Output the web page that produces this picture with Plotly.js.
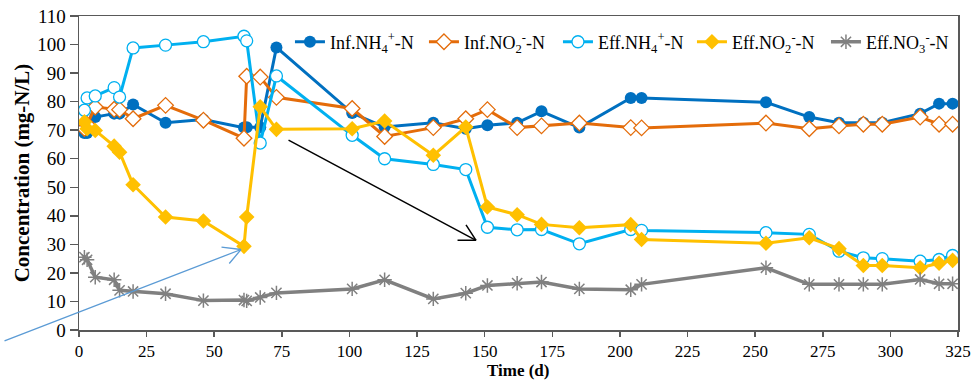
<!DOCTYPE html>
<html>
<head>
<meta charset="utf-8">
<script src="https://cdn.plot.ly/plotly-3.0.1.min.js"></script>
<style>html,body{margin:0;padding:0;background:#fff;}#chart{width:975px;height:381px;}</style>
</head>
<body>
<div id="chart"></div>
<script>
// Time (d)
var days = [2, 3, 6, 13, 15, 20, 32, 46, 61, 62, 67, 73, 101, 113, 131, 143, 151, 162, 171, 185, 204, 208, 254, 270, 281, 290, 297, 311, 318, 323];

// Concentrations (mg-N/L)
var infNH4 = [69, 69, 74.6, 75.8, 75.8, 79, 72.6, 73.7, 70.9, 71, 71, 99, 76, 71.1, 72.6, 70.5, 71.7, 72.6, 76.6, 70.9, 81.3, 81.3, 79.8, 74.6, 72.6, 72.6, 72.6, 75.8, 79.3, 79.3];
var infNO2 = [70.6, 72, 78.1, 77.3, 77.2, 74.0, 78.7, 73.5, 67.2, 88.9, 88.6, 81.5, 77.6, 67.8, 70.9, 74.0, 77.2, 70.9, 71.5, 72.5, 70.9, 70.8, 72.5, 70.5, 71.5, 72.1, 72.1, 74.6, 72.1, 72.1];
var effNH4 = [77, 81.3, 82, 84.9, 81.6, 98.8, 99.8, 101, 102.9, 101.3, 65.5, 89, 68.2, 60, 58, 56.2, 36, 35.1, 35.2, 30.2, 35.2, 34.9, 34.1, 33.5, 27.6, 25.3, 25, 24.1, 24.7, 26.1];
var effNO2 = [72.9, 70.5, 69.9, 64.4, 62.3, 50.9, 39.6, 38.2, 29.3, 39.6, 78.2, 70.3, 70.5, 73.2, 61.2, 71.1, 43.1, 40.4, 37, 35.8, 36.9, 31.7, 30.4, 32.3, 28.5, 22.6, 22.6, 21.8, 23.4, 24.4];
var effNO3 = [25.5, 24.6, 18.5, 17.6, 13.9, 13.5, 12.7, 10.3, 10.5, 10.2, 11.4, 13, 14.4, 17.6, 10.9, 12.9, 15.6, 16.4, 16.8, 14.4, 14.1, 16, 21.8, 16, 16, 16, 16, 17.7, 16.2, 16.2];

var seriesNames = ['Inf.NH<sub>4</sub><sup>+</sup>-N', 'Inf.NO<sub>2</sub><sup>-</sup>-N', 'Eff.NH<sub>4</sub><sup>+</sup>-N', 'Eff.NO<sub>2</sub><sup>-</sup>-N', 'Eff.NO<sub>3</sub><sup>-</sup>-N'];
var xTicks = [0, 25, 50, 75, 100, 125, 150, 175, 200, 225, 250, 275, 300, 325];
var yTicks = [0, 10, 20, 30, 40, 50, 60, 70, 80, 90, 100, 110];
var xTitle = '<b>Time (d)</b>';
var yTitle = '<b>Concentration (mg-N/L)</b>';

// annotation arrow heads (data coords)
var arrowHeadsX = [146.8, 59.9];
var arrowHeadsY = [31.4, 28.2];

var FONT = 'Liberation Serif, Times New Roman, serif';

var traces = [
  {x: days, y: infNH4, name: seriesNames[0], mode: 'lines+markers',
   line: {color: '#0070C0', width: 3},
   marker: {symbol: 'circle', size: 12, color: '#0070C0'}},
  {x: days, y: infNO2, name: seriesNames[1], mode: 'lines+markers',
   line: {color: '#E46C0A', width: 3},
   marker: {symbol: 'diamond', size: 12, color: '#ffffff', line: {color: '#E46C0A', width: 1.3}}},
  {x: days, y: effNH4, name: seriesNames[2], mode: 'lines+markers',
   line: {color: '#00B0F0', width: 3},
   marker: {symbol: 'circle', size: 12, color: '#ffffff', line: {color: '#00B0F0', width: 1.3}}},
  {x: days, y: effNO2, name: seriesNames[3], mode: 'lines+markers',
   line: {color: '#FFC000', width: 3},
   marker: {symbol: 'diamond', size: 12, color: '#FFC000'}},
  {x: days, y: effNO3, name: seriesNames[4], mode: 'lines+markers',
   line: {color: '#808080', width: 3.5},
   marker: {symbol: 'asterisk-open', size: 12, color: '#808080', line: {color: '#808080', width: 1.5}}}
];

function arm(i, ax, ay, color, w) {
  return {x: arrowHeadsX[i], y: arrowHeadsY[i], xref: 'x', yref: 'y', text: '', showarrow: true,
          arrowhead: 0, ax: ax, ay: ay, axref: 'pixel', ayref: 'pixel', arrowcolor: color, arrowwidth: w, standoff: 0, startstandoff: 0};
}

var annotations = [
  arm(0, -189, -101, '#000000', 1.5),
  arm(0, -20, 0, '#000000', 1.5),
  arm(0, -11, -17, '#000000', 1.5),
  arm(1, -238, 92, '#5B9BD5', 1.3),
  arm(1, -21, -2.5, '#5B9BD5', 1.3),
  arm(1, -13, 15.5, '#5B9BD5', 1.3),
  {xref: 'paper', yref: 'paper', x: 0.5, y: -0.163, xanchor: 'center', yanchor: 'bottom', showarrow: false,
   text: xTitle, font: {family: FONT, size: 17, color: '#000000'}, borderpad: 0}
];

var layout = {
  width: 975, height: 381,
  margin: {l: 79, r: 17, t: 16, b: 51, autoexpand: false},
  paper_bgcolor: '#ffffff', plot_bgcolor: '#ffffff',
  font: {family: FONT, size: 18, color: '#000000'},
  showlegend: true,
  legend: {orientation: 'h', x: 0.24, xanchor: 'left', y: 0.917, yanchor: 'middle',
           font: {family: FONT, size: 18, color: '#000000'}, bgcolor: 'rgba(255,255,255,0)',
           entrywidth: 89, entrywidthmode: 'pixels', tracegroupgap: 0},
  xaxis: {range: [0, 325], tickvals: xTicks, ticktext: xTicks.map(String), showgrid: false, zeroline: false,
          showline: true, linecolor: '#595959', linewidth: 1.5, mirror: true,
          ticks: 'outside', ticklen: 5, tickwidth: 1.5, tickcolor: '#595959',
          tickfont: {family: FONT, size: 17, color: '#000000'}, automargin: false},
  yaxis: {range: [0, 110], tickvals: yTicks, ticktext: yTicks.map(String), showgrid: false, zeroline: false,
          showline: true, linecolor: '#595959', linewidth: 1.5, mirror: true,
          ticks: 'outside', ticklen: 8, tickwidth: 1.5, tickcolor: '#595959',
          tickfont: {family: FONT, size: 19, color: '#000000'}, automargin: false,
          title: {text: yTitle, font: {family: FONT, size: 21, color: '#000000'}, standoff: 2}},
  annotations: annotations
};

Plotly.newPlot('chart', traces, layout, {staticPlot: true, displayModeBar: false});
</script>
</body>
</html>
